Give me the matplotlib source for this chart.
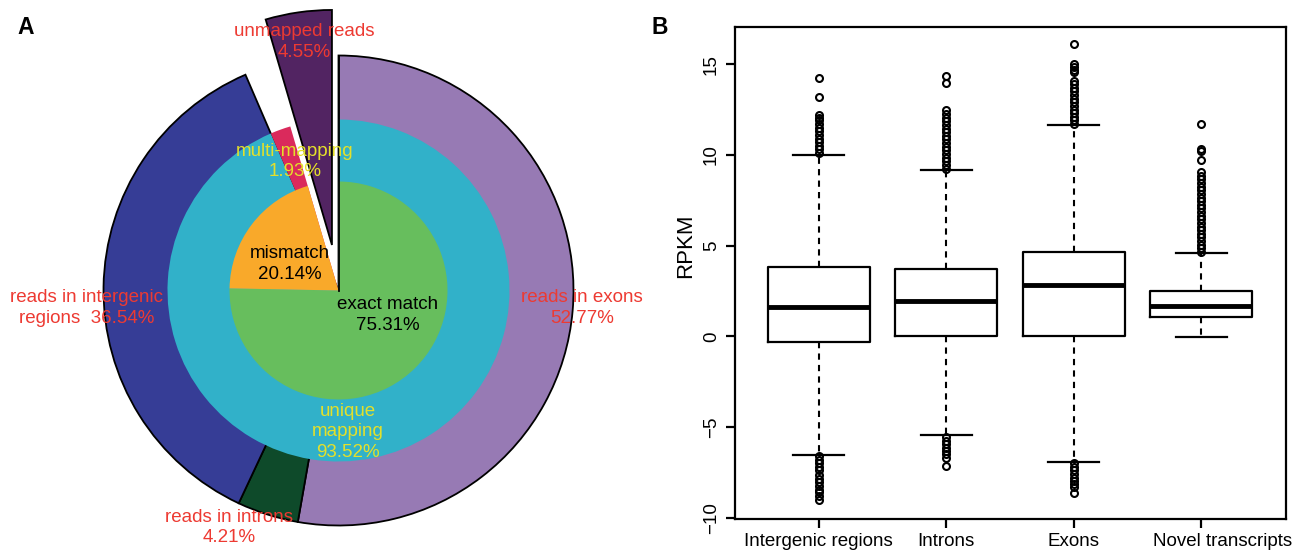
import matplotlib
matplotlib.use('Agg')
import matplotlib.pyplot as plt
from matplotlib.transforms import ScaledTranslation

plt.rcParams['font.family'] = ['Liberation Sans', 'DejaVu Sans']

# ---- 数据: A 图 (占全部 reads 的百分比) ----
unmapped = 4.55
mapping_names = ['unique\nmapping', 'multi-mapping']
mapping_vals = [93.52, 1.93]
match_names = ['exact match', 'mismatch']
match_vals = [75.31, 20.14]
region_names = ['reads in exons', 'reads in introns', 'reads in intergenic\nregions ']
region_vals = [52.77, 4.21, 36.54]

# ---- 数据: B 图 (RPKM 箱线图) ----
groups = ['Intergenic regions', 'Introns', 'Exons', 'Novel transcripts']
q1 = [-0.32, 0.0, 0.0, 1.05]
med = [1.63, 1.95, 2.80, 1.65]
q3 = [3.82, 3.70, 4.67, 2.49]
whis_lo = [-6.54, -5.47, -6.93, -0.06]
whis_hi = [10.0, 9.18, 11.63, 4.61]
fliers = [
    [10.1, 10.3, 10.5, 10.7, 10.9, 11.1, 11.3, 11.5, 11.7, 11.9, 12.05, 12.2, 13.2, 14.25,
     -6.6, -6.8, -7.0, -7.2, -7.4, -7.65, -7.85, -8.05, -8.25, -8.45, -8.6, -8.8, -9.05],
    [9.25, 9.45, 9.65, 9.85, 10.05, 10.25, 10.45, 10.65, 10.85, 11.05, 11.25, 11.45, 11.65,
     11.85, 12.05, 12.25, 12.45, 13.95, 14.35,
     -5.55, -5.75, -5.95, -6.15, -6.35, -6.5, -6.7, -7.15],
    [11.7, 11.9, 12.1, 12.3, 12.5, 12.7, 12.9, 13.1, 13.3, 13.5, 13.7, 13.9, 14.1,
     14.55, 14.7, 14.85, 15.0, 16.1,
     -7.0, -7.2, -7.4, -7.6, -7.8, -8.0, -8.15, -8.3, -8.62],
    [4.65, 4.85, 5.05, 5.25, 5.45, 5.65, 5.85, 6.05, 6.25, 6.45, 6.65, 6.85, 7.05, 7.25,
     7.45, 7.65, 7.85, 8.05, 8.25, 8.45, 8.65, 8.85, 9.05, 9.7, 10.2, 10.35, 11.7],
]

region_colors = ['#977AB4', '#0E4A2A', '#363D96']
mapping_colors = ['#31B1C9', '#DA2A5C']
match_colors = ['#67BE5D', '#F9A92A']
unmapped_color = '#522462'
red = '#ED3A32'
yellow = '#E4E02A'

fig = plt.figure(figsize=(12.94, 5.52), dpi=100)

# ================= A =================
ax1 = fig.add_axes([0, 0, 650 / 1294, 1])
cx, cy = 338.5, 261.5
r_out, r_mid, r_in = 235, 171, 109
edge = dict(edgecolor='black', linewidth=1.3)

# 外圈: exons / introns / intergenic
w_out, _ = ax1.pie(region_vals + [mapping_vals[1], unmapped],
                   colors=region_colors + ['white', 'white'],
                   radius=r_out, center=(cx, cy), startangle=90,
                   counterclock=False, wedgeprops=edge)
for w in w_out[3:]:
    w.set_visible(False)

# 中圈: unique / multi mapping
w_mid, _ = ax1.pie(mapping_vals + [unmapped], colors=mapping_colors + ['white'],
                   radius=r_mid, center=(cx, cy), startangle=90,
                   counterclock=False, wedgeprops=dict(linewidth=0))
w_mid[-1].set_visible(False)

# 内圈: exact match / mismatch
w_in, _ = ax1.pie(match_vals + [unmapped], colors=match_colors + ['white'],
                  radius=r_in, center=(cx, cy), startangle=90,
                  counterclock=False, wedgeprops=dict(linewidth=0))
w_in[-1].set_visible(False)

ax1.plot([cx, cx], [cy, cy + r_out], color='black', lw=1.3)

# 突出的 unmapped
w_ex, _ = ax1.pie([sum(match_vals), unmapped], colors=['white', unmapped_color],
                  radius=r_out, center=(cx, cy), startangle=90,
                  counterclock=False, explode=[0, 46], wedgeprops=edge)
w_ex[0].set_visible(False)

ax1.set_xlim(0, 650)
ax1.set_ylim(0, 552)
ax1.set_aspect('auto')
ax1.axis('off')

H = 552
fs = 13.5
txt = dict(ha='center', va='center', fontsize=fs, linespacing=1.3, zorder=10)
ax1.text(304, H - 42, f'unmapped reads\n{unmapped:.2f}%', color=red, **txt)
ax1.text(295, H - 161.5, f'{mapping_names[1]}\n{mapping_vals[1]:.2f}%', color=yellow, **txt)
ax1.text(347.5, H - 432, f'{mapping_names[0]}\n{mapping_vals[0]:.2f}%', color=yellow, **txt)
ax1.text(289.5, H - 264, f'{match_names[1]}\n{match_vals[1]:.2f}%', color='black', **txt)
ax1.text(388, H - 315, f'{match_names[0]}\n{match_vals[0]:.2f}%', color='black', **txt)
ax1.text(582, H - 308, f'{region_names[0]}\n{region_vals[0]:.2f}%', color=red, **txt)
ax1.text(229, H - 527.5, f'{region_names[1]}\n{region_vals[1]:.2f}%', color=red, **txt)
ax1.text(87, H - 308, f'{region_names[2]} {region_vals[2]:.2f}%', color=red, **txt)

fig.text(25.5 / 1294, 1 - 27 / 552, 'A', fontsize=16.5, weight='bold', ha='center', va='center')
fig.text(660 / 1294, 1 - 27 / 552, 'B', fontsize=16.5, weight='bold', ha='center', va='center')

# ================= B =================
ax2 = fig.add_axes([734.5 / 1294, 1 - 518.7 / 552, 551 / 1294, 492.2 / 552])
stats = []
for i in range(len(groups)):
    stats.append(dict(label=groups[i], q1=q1[i], med=med[i], q3=q3[i],
                      whislo=whis_lo[i], whishi=whis_hi[i], fliers=fliers[i]))

ax2.bxp(stats, positions=[1, 2, 3, 4], widths=0.8, capwidths=0.4,
        boxprops=dict(color='black', linewidth=1.6),
        medianprops=dict(color='black', linewidth=3.5, solid_capstyle='butt'),
        whiskerprops=dict(color='black', linewidth=1.5, linestyle=(0, (3, 2.5))),
        capprops=dict(color='black', linewidth=1.6),
        flierprops=dict(marker='o', markerfacecolor='none', markeredgecolor='black',
                        markersize=5, markeredgewidth=1.5))

ax2.set_xlim(0.34, 4.66)
ax2.set_ylim(-10.06, 17.08)
ax2.set_yticks([-10, -5, 0, 5, 10, 15])
for s in ax2.spines.values():
    s.set_linewidth(1.6)
ax2.tick_params(direction='out', length=6.5, width=1.6, labelsize=fs, pad=4)
ax2.tick_params(axis='y', labelrotation=90)
for lbl in ax2.get_yticklabels():
    lbl.set_va('center')

xl = ax2.get_xticklabels()
xl[3].set_transform(xl[3].get_transform() + ScaledTranslation(0.21, 0, fig.dpi_scale_trans))

ax2.set_ylabel('RPKM', fontsize=16)
ax2.yaxis.set_label_coords(-0.088, 0.554)
ax2.yaxis.label.set_va('center')

fig.savefig('out.png', dpi=100)
